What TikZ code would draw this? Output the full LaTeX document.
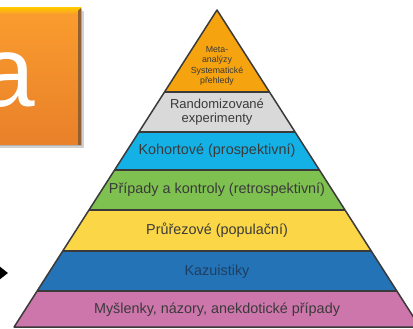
\documentclass[tikz,border=0pt]{standalone}
\usepackage{fontspec}
\setmainfont{Liberation Sans}
\usetikzlibrary{arrows.meta, positioning}

\definecolor{bandorange}{HTML}{F5A30F}
\definecolor{bandgray}{HTML}{D9D9D9}
\definecolor{bandcyan}{HTML}{14B1E7}
\definecolor{bandgreen}{HTML}{7EC150}
\definecolor{bandyellow}{HTML}{FBD747}
\definecolor{bandblue}{HTML}{2373B6}
\definecolor{bandpink}{HTML}{CD76AB}
\definecolor{edgegray}{HTML}{3A3A3A}
\definecolor{navytext}{HTML}{1D3F63}
\definecolor{boxtop}{HTML}{FA9D2E}
\definecolor{boxbot}{HTML}{E9802A}

\begin{document}
\begin{tikzpicture}[
    x=1pt, y=-1pt,
    band/.style={font=\fontsize{14.4}{16}\selectfont, text=edgegray, align=center, inner sep=0pt} % text in the pyramid
    ]
\useasboundingbox (0,0) rectangle (413,329);

% orange title box
\fill[black!18] (-5,11) rectangle (84,148);
\fill[black!30] (-5,9) rectangle (82,146);
\shade[top color=boxtop, bottom color=boxbot] (-5,8) rectangle (81,145);
\shade[top color=yellow!55!orange, bottom color=boxtop] (-5,8) rectangle (81,14);
\fill[brown!75!black] (78,11) -- (81,8) -- (81,145) -- (78,145) -- cycle;
\node[text=white, font=\fontsize{100}{100}\selectfont, inner sep=0pt, anchor=base west] (title) at (-21,107) {a};

% arrow coming from the left
\coordinate (arrL) at (-20,273);
\coordinate (arrR) at (8,273);
\draw[-{Triangle[length=8pt, width=12pt]}, line width=2pt] (arrL) -- (arrR);

% pyramid
\begin{scope}
\clip (217,10) -- (14.1,327) -- (419.9,327) -- cycle;
\fill[bandorange] (0,0) rectangle (430,92);
\fill[bandgray] (0,92) rectangle (430,132);
\fill[bandcyan] (0,132) rectangle (430,170);
\fill[bandgreen] (0,170) rectangle (430,210);
\fill[bandyellow] (0,210) rectangle (430,251);
\fill[bandblue] (0,251) rectangle (430,291);
\fill[bandpink] (0,291) rectangle (430,327);
\draw[edgegray, line width=1.3pt] (0,92) -- (430,92);
\draw[edgegray, line width=1.3pt] (0,132) -- (430,132);
\draw[edgegray, line width=1.3pt] (0,170) -- (430,170);
\draw[edgegray, line width=1.3pt] (0,210) -- (430,210);
\draw[edgegray, line width=1.3pt] (0,251) -- (430,251);
\draw[edgegray, line width=1.3pt] (0,291) -- (430,291);
\end{scope}
\draw[edgegray, line width=1.5pt, line join=round] (217,10) -- (14.1,327) -- (419.9,327) -- cycle;

\node[band, font=\fontsize{8.8}{10.5}\selectfont] (meta) at (217,66) {Meta-\\analýzy\\Systematické\\přehledy};
\node[band, font=\fontsize{13}{13.5}\selectfont] (rand) at (217,112) {Randomizované\\experimenty};
\node[band] (kohort) at (217,151) {Kohortové (prospektivní)};
\node[band] (pripady) at (217,190) {Případy a kontroly (retrospektivní)};
\node[band] (prurez) at (217,230.5) {Průřezové (populační)};
\node[band, text=navytext] (kazuist) at (217,272) {Kazuistiky};
\node[band] (mysl) at (217,310) {Myšlenky, názory, anekdotické případy};
\end{tikzpicture}
\end{document}
